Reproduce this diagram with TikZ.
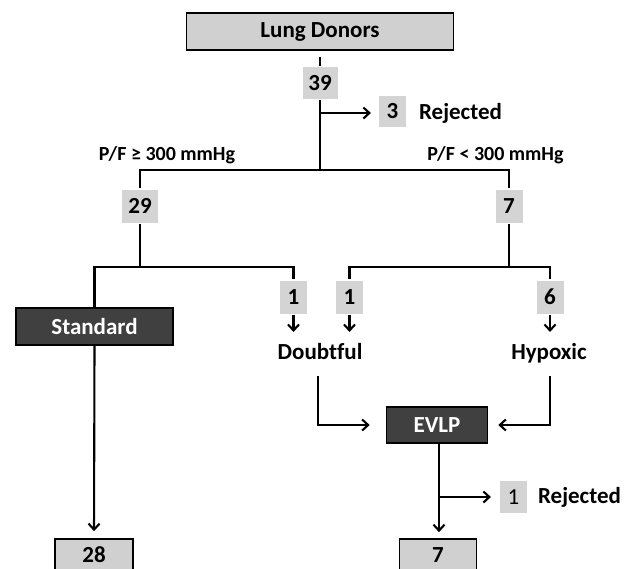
\documentclass[tikz,border=0pt]{standalone}
\usepackage{fontspec}
\setmainfont{Carlito}[Ligatures=NoCommon]
\usetikzlibrary{arrows.meta}
\definecolor{boxgray}{RGB}{208,208,208}
\definecolor{numgray}{RGB}{212,212,212}
\definecolor{darkbox}{RGB}{64,64,64}
\begin{document}
\begin{tikzpicture}[x=1pt,y=-1pt, line width=2.1pt,
  font=\fontsize{23}{27}\selectfont\bfseries,
  numbox/.style={fill=numgray, inner sep=0pt, minimum width=#1, minimum height=32pt},
  graybox/.style={fill=boxgray, draw=black, line width=1.6pt, inner sep=0pt, minimum width=#1},
  darkstep/.style={fill=darkbox, draw=black, line width=1.6pt, text=white, inner sep=0pt, minimum width=#1},
  lbl/.style={inner sep=0pt, text height=16pt, text depth=4pt},
  pflbl/.style={inner sep=0pt, font=\fontsize{20}{24}\selectfont\bfseries},
  arr/.style={-{Straight Barb[length=6pt,width=11pt]}}
]
\useasboundingbox (0,0) rectangle (626,568);
\clip (0,0) rectangle (626,568);
% nodes
\node[graybox=267pt, minimum height=37pt] (donors) at (320,31.5) {Lung Donors};
\node[numbox=35pt] (n39) at (320,83) {39};
\node[numbox=27pt, minimum height=31pt] (n3) at (392.5,111.5) {3};
\node[lbl, anchor=west] (rej1) at (418,113) {Rejected};
\node[pflbl] (pf1) at (167,155) {P/F ≥ 300 mmHg};
\node[pflbl] (pf2) at (495.5,155) {P/F < 300 mmHg};
\node[numbox=36pt, minimum height=33pt] (n29) at (140,206) {29};
\node[numbox=27pt, minimum height=33pt] (n7a) at (509,206) {7};
\node[numbox=27pt, minimum height=33pt] (n1a) at (293.5,297) {1};
\node[numbox=27pt, minimum height=33pt] (n1b) at (349.5,297) {1};
\node[numbox=27pt, minimum height=33pt] (n6) at (550,297) {6};
\node[darkstep=157pt, minimum height=37pt] (std) at (94.5,326.5) {Standard};
\node[lbl] (doubtful) at (320,353) {Doubtful};
\node[lbl] (hypoxic) at (549,353) {Hypoxic};
\node[darkstep=101pt, minimum height=36pt] (evlp) at (437,425) {EVLP};
\node[numbox=27pt] (n1c) at (513.5,497) {\mdseries 1};
\node[lbl, anchor=west] (rej2) at (537,497) {Rejected};
\node[graybox=78pt, minimum height=32pt] (fin28) at (94,555) {28};
\node[graybox=77pt, minimum height=32pt] (fin7) at (438,555) {7};
\coordinate (c1) at (320,113);
\coordinate (c2) at (320,170);
\coordinate (c3) at (320,267);
\coordinate (a1) at (293.5,332);
\coordinate (a2) at (349.5,332);
\coordinate (a3) at (550,332);
% connectors
\draw ([yshift=-6pt]donors.south) -- (n39.north);
\draw (n39.south) -- (c2);
\draw[arr, shorten >=7pt] (c1) -- (n3.west |- c1);
\draw (n29.north) -- (n29.north |- c2) -- (n7a.north |- c2) -- (n7a.north);
\draw (n29.south) -- (n29.south |- c3);
\draw (n7a.south) -- (n7a.south |- c3);
\draw (std.north) -- (std.north |- c3) -- (n1a.north |- c3) -- (n1a.north);
\draw (n1b.north) -- (n1b.north |- c3) -- (n6.north |- c3) -- (n6.north);
\draw[arr] (n1a.south) -- (a1);
\draw[arr] (n1b.south) -- (a2);
\draw[arr] (n6.south) -- (a3);
\draw[arr, shorten <=12pt, shorten >=16pt] ([xshift=-2pt]doubtful.south) -- ([xshift=-2pt]doubtful.south |- evlp.west) -- (evlp.west);
\draw[arr, shorten <=12pt, shorten >=10pt] ([xshift=1pt]hypoxic.south) -- ([xshift=1pt]hypoxic.south |- evlp.east) -- (evlp.east);
\draw[arr, shorten >=7pt] (std.south) -- (fin28.north);
\draw[arr, shorten >=6pt] ([xshift=2pt]evlp.south) -- ([xshift=2pt]evlp.south |- fin7.north);
\draw[arr, shorten >=8pt] ([xshift=2pt]evlp.south |- n1c) -- (n1c.west);
\end{tikzpicture}
\end{document}
